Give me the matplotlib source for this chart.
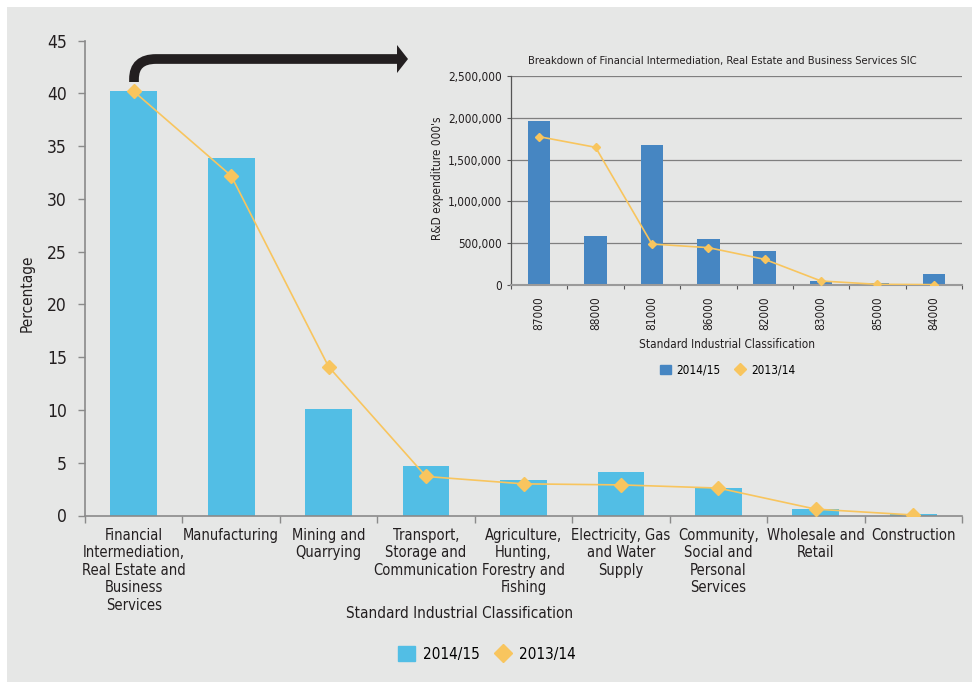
import numpy as np
import matplotlib
matplotlib.use('Agg')
import matplotlib.pyplot as plt
from matplotlib.path import Path
from matplotlib.patches import PathPatch, Polygon, Rectangle
from matplotlib.lines import Line2D

plt.rcParams['font.family'] = ['DejaVu Sans']
plt.rcParams['font.stretch'] = 'condensed'

# main chart data (percentage of R&D expenditure)
sectors = ['Financial\nIntermediation,\nReal Estate and\nBusiness\nServices',
           'Manufacturing', 'Mining and\nQuarrying', 'Transport,\nStorage and\nCommunication',
           'Agriculture,\nHunting,\nForestry and\nFishing', 'Electricity, Gas\nand Water\nSupply',
           'Community,\nSocial and\nPersonal\nServices', 'Wholesale and\nRetail', 'Construction']
pct_1415 = [40.2, 33.9, 10.1, 4.7, 3.4, 4.1, 2.6, 0.6, 0.1]
pct_1314 = [40.2, 32.2, 14.1, 3.7, 3.0, 2.9, 2.6, 0.6, 0.05]

# inset data (R&D expenditure 000's)
sic_codes = ['87000', '88000', '81000', '86000', '82000', '83000', '85000', '84000']
exp_1415 = [1966000, 590000, 1679000, 546000, 411000, 44000, 20000, 132000]
exp_1314 = [1774000, 1647000, 490000, 447000, 307000, 48000, 8000, 4000]

BG = '#e6e7e6'
BAR_MAIN = '#52bee5'
BAR_INSET = '#4686c2'
LINE = '#f8c55e'
TXT = '#231f20'
SPINE = '#8a8a8a'

fig = plt.figure(figsize=(9.72, 6.82), dpi=100)
fig.patch.set_facecolor('white')
W, H = 972, 682
fig.add_artist(Rectangle((7 / W, 0), 1, 1 - 7 / H, transform=fig.transFigure,
                         facecolor=BG, edgecolor='none', zorder=0))

# ---- main axes ----
ax = fig.add_axes([85 / W, 1 - 515.5 / H, 877 / W, 474.8 / H])
ax.set_facecolor('none')
x = np.arange(len(sectors))
ax.bar(x, pct_1415, width=0.48, color=BAR_MAIN, zorder=2)
ax.plot(x, pct_1314, color=LINE, lw=1.2, marker='D', ms=6.8, zorder=3)
ax.set_xlim(-0.5, len(sectors) - 0.5)
ax.set_ylim(0, 45)
ax.set_yticks(np.arange(0, 46, 5))
ax.set_xticks(x)
ax.set_xticklabels(sectors, fontsize=10.5, color=TXT, linespacing=1.2, va='top')
ax.set_xticks(np.arange(-0.5, len(sectors), 1), minor=True)
ax.tick_params(axis='x', which='major', length=0, pad=9)
ax.tick_params(axis='x', which='minor', length=5, color=SPINE, width=1)
ax.tick_params(axis='y', length=5, color=SPINE, width=1, labelsize=12.5, labelcolor=TXT, pad=8)
for s in ['top', 'right']:
    ax.spines[s].set_visible(False)
for s in ['left', 'bottom']:
    ax.spines[s].set_color(SPINE)
    ax.spines[s].set_linewidth(1.2)
fig.text(27 / W, 1 - 293 / H, 'Percentage', fontsize=11, color=TXT, rotation=90,
         ha='center', va='center')
fig.text(460 / W, 1 - 614 / H, 'Standard Industrial Classification', fontsize=11,
         color=TXT, ha='center', va='center')

handles = [Rectangle((0, 0), 1, 1, color=BAR_MAIN),
           Line2D([], [], color=LINE, marker='D', ms=9, lw=0)]
fig.legend(handles, ['2014/15', '2013/14'], loc='center', bbox_to_anchor=(487 / W, 1 - 654 / H),
           ncol=2, frameon=False, fontsize=11, handlelength=1.1, handleheight=1.1,
           columnspacing=1.0, handletextpad=0.5)

# ---- inset axes ----
ins = fig.add_axes([511 / W, 1 - 285 / H, 451 / W, 209 / H])
ins.set_facecolor('none')
xi = np.arange(len(sic_codes))
ins.bar(xi, exp_1415, width=0.4, color=BAR_INSET, zorder=2)
ins.plot(xi, exp_1314, color=LINE, lw=1.2, marker='D', ms=4.2, zorder=3)
ins.set_xlim(-0.5, len(sic_codes) - 0.5)
ins.set_ylim(0, 2500000)
ins.set_yticks(np.arange(0, 2500001, 500000))
ins.set_yticklabels([f'{v:,}' for v in range(0, 2500001, 500000)])
ins.yaxis.grid(True, color='#7f7f7f', lw=0.9, zorder=1)
ins.set_axisbelow(True)
ins.set_xticks(xi)
ins.set_xticklabels(sic_codes, rotation=90, fontsize=8.5, color=TXT)
ins.set_xticks(np.arange(-0.5, len(sic_codes), 1), minor=True)
ins.tick_params(axis='x', which='major', length=0, pad=8)
ins.tick_params(axis='x', which='minor', length=3, color='#555555', width=0.8)
ins.tick_params(axis='y', length=3, color='#555555', width=0.8, labelsize=8.5, labelcolor=TXT)
for s in ['top', 'right']:
    ins.spines[s].set_visible(False)
for s in ['left', 'bottom']:
    ins.spines[s].set_color('#555555')
    ins.spines[s].set_linewidth(0.9)
ins.spines['bottom'].set_color('#9a9a9a')
ins.spines['bottom'].set_linewidth(1.5)
fig.text(437 / W, 1 - 178 / H, "R&D expenditure 000's", fontsize=8.5, color=TXT, rotation=90,
         ha='center', va='center')
fig.text(722 / W, 1 - 61 / H, 'Breakdown of Financial Intermediation, Real Estate and Business Services SIC',
         fontsize=8, color=TXT, ha='center', va='center')
fig.text(727 / W, 1 - 344 / H, 'Standard Industrial Classification', fontsize=8.5,
         color=TXT, ha='center', va='center')

handles_i = [Rectangle((0, 0), 1, 1, color=BAR_INSET),
             Line2D([], [], color=LINE, marker='D', ms=6, lw=0)]
fig.legend(handles_i, ['2014/15', '2013/14'], loc='center', bbox_to_anchor=(728 / W, 1 - 370 / H),
           ncol=2, frameon=False, fontsize=8.5, handlelength=0.9, handleheight=0.9,
           columnspacing=1.2, handletextpad=0.5)

# ---- curved arrow from first bar to inset ----
def fp(px, py):
    return (px / W, 1 - py / H)

verts = [fp(134, 82), fp(134, 79), fp(134, 59), fp(156, 59), fp(398, 59)]
codes = [Path.MOVETO, Path.LINETO, Path.CURVE3, Path.CURVE3, Path.LINETO]
fig.add_artist(PathPatch(Path(verts, codes), transform=fig.transFigure, fill=False,
                         edgecolor=TXT, lw=7, capstyle='butt', joinstyle='miter', zorder=5))
fig.add_artist(Polygon([fp(397, 45), fp(408, 59), fp(397, 73)], closed=True,
                       transform=fig.transFigure, facecolor=TXT, edgecolor='none', zorder=5))

fig.savefig('out.png', dpi=100, facecolor=fig.get_facecolor())
